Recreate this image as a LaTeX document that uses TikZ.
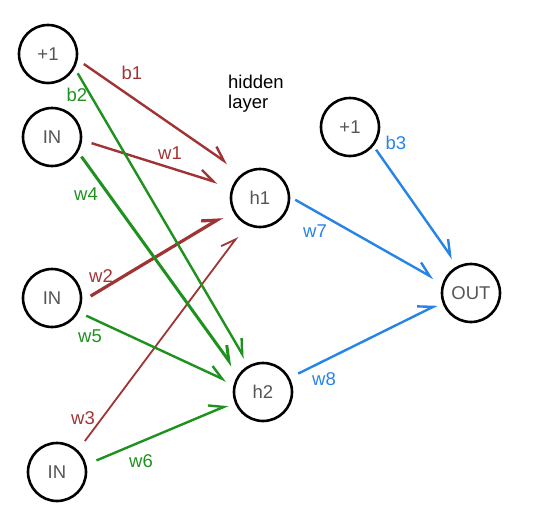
\documentclass[tikz,border=0pt]{standalone}
\usepackage{fontspec}
\setmainfont{Liberation Sans}
\usepackage{xcolor}
\usepackage{tikz}
\usetikzlibrary{arrows.meta}
\definecolor{wred}{RGB}{160,52,52}
\definecolor{wgreen}{RGB}{30,145,30}
\definecolor{wblue}{RGB}{38,132,230}
\definecolor{ntext}{RGB}{85,85,85}

\begin{document}
\begin{tikzpicture}[x=1pt,y=-1pt,
	neuron/.style={circle,draw=black,line width=2.6pt,minimum size=58pt,inner sep=0pt,text=ntext,font=\fontsize{18.5}{20}\selectfont},
	lab/.style={inner sep=0pt,font=\fontsize{18.5}{20}\selectfont},
	conn/.style={line width=2.4pt,-{Straight Barb[left,length=14pt,width=15pt]}}]
			\useasboundingbox (0,0) rectangle (542,531);
			% Vẽ các nút
			\node[neuron] (bias1) at (48,54) {+1};
			\node[neuron] (in1) at (52,137) {IN};
			\node[neuron] (in2) at (52,298) {IN};
			\node[neuron] (in3) at (57,472) {IN};
			\node[neuron] (h1) at (260,198) {h1};
			\node[neuron] (h2) at (263,392) {h2};
			\node[neuron] (bias2) at (350,127) {+1};
			\node[neuron] (out) at (471,293) {OUT};
			\node[lab,align=left,anchor=north west] (hid) at (228,75) {hidden\\layer};
			% Vẽ các cạnh vào h1
			\draw[conn,wred,shorten <=7.4pt,shorten >=17.7pt] (bias1.-11) -- (h1.126);
			\draw[conn,wred,shorten <=9.9pt,shorten >=14.7pt] (in1.-6) -- (h1.159);
			\draw[conn,wred,line width=3.2pt,shorten <=9.9pt,shorten >=11.7pt] (in2.-6) -- (h1.-155);
			\draw[conn,wred,line width=1.8pt,shorten <=11.4pt,shorten >=14.4pt] (in3.46) -- (h1.-117);
			% Vẽ các cạnh vào h2
			\draw[conn,wgreen,shorten <=5.9pt,shorten >=8.2pt] (bias1.-28) -- (h2.118);
			\draw[conn,wgreen,line width=3pt,shorten <=5.5pt,shorten >=10.5pt] (in1.-30) -- (h2.144);
			\draw[conn,wgreen,shorten <=8.2pt,shorten >=8pt] (in2.-28) -- (h2.165);
			\draw[conn,wgreen,shorten <=10.9pt,shorten >=7pt] (in3.14) -- (h2.-160);
			% Vẽ các cạnh vào OUT
			\draw[conn,wblue,shorten <=4.5pt,shorten >=8.6pt] (bias2.-39) -- (out.116);
			\draw[conn,wblue,shorten <=5.7pt,shorten >=9.9pt] (h1.2) -- (out.161);
			\draw[conn,wblue,shorten <=9.5pt,shorten >=5.4pt] (h2.28) -- (out.-162);
			% Nhãn trọng số
			\node[lab,text=wred] (lb1) at (132,73) {b1};
			\node[lab,text=wgreen] (lb2) at (77,95) {b2};
			\node[lab,text=wred] (lw1) at (170,153) {w1};
			\node[lab,text=wgreen] (lw4) at (86,194) {w4};
			\node[lab,text=wred] (lw2) at (101,276) {w2};
			\node[lab,text=wgreen] (lw5) at (90,336) {w5};
			\node[lab,text=wred] (lw3) at (83,418) {w3};
			\node[lab,text=wgreen] (lw6) at (141,461) {w6};
			\node[lab,text=wblue] (lb3) at (396,143) {b3};
			\node[lab,text=wblue] (lw7) at (315,231) {w7};
			\node[lab,text=wblue] (lw8) at (324,379) {w8};
		\end{tikzpicture}
\end{document}
